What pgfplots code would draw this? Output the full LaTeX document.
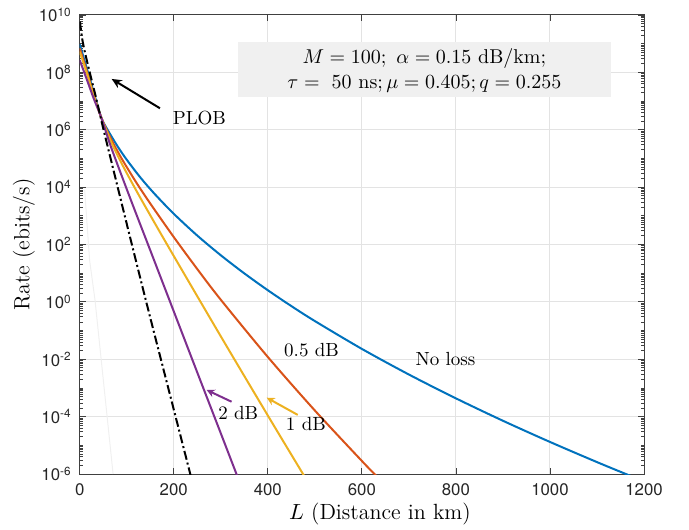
\documentclass[border=0pt]{standalone}
\usepackage{fontspec}
\setsansfont{TeX Gyre Heros}
\usepackage{pgfplots}
\pgfplotsset{compat=1.18}
\usetikzlibrary{arrows.meta}
\definecolor{mblue}{rgb}{0,0.447,0.741}
\definecolor{morange}{rgb}{0.85,0.325,0.098}
\definecolor{myellow}{rgb}{0.929,0.694,0.125}
\definecolor{mpurple}{rgb}{0.494,0.184,0.556}
\definecolor{boxgray}{rgb}{0.941,0.941,0.941}
\def\minorlist{}%
\foreach \e in {-6,...,9}{\foreach \m in {2,...,9}{\xdef\minorlist{\minorlist\m e\e,}}}%
\foreach \e in {-5,-3,-1,1,3,5,7,9}{\xdef\minorlist{\minorlist 1e\e,}}%
\xdef\minorlist{\minorlist 1e10}%
\begin{document}%
\begin{tikzpicture}
\path[use as bounding box] (-39.85pt,-27.5pt) rectangle (304.65pt,237pt);
\begin{axis}[
  at={(0,0)}, anchor=south west,
  scale only axis, width=282.15pt, height=229.5pt,
  xmin=0, xmax=1200, ymode=log, ymin=1e-6, ymax=1e10,
  axis line style={black!75, line width=0.5pt},
  every tick/.style={black!75, line width=0.4pt},
  major tick length=3pt, minor tick length=1.6pt,
  xtick={0,200,400,600,800,1000,1200},
  xticklabels={0,200,400,600,800,1000,1200},
  ytick={1e-6,1e-4,1e-2,1,1e2,1e4,1e6,1e8,1e10},
  yticklabels={10\textsuperscript{-6},10\textsuperscript{-4},10\textsuperscript{-2},10\textsuperscript{0},10\textsuperscript{2},10\textsuperscript{4},10\textsuperscript{6},10\textsuperscript{8},10\textsuperscript{10}},
  minor ytick/.expanded={\minorlist},
  ticklabel style={font=\sffamily\fontsize{8.4}{9}\selectfont, text=black!85},
  xticklabel style={yshift=-1.5pt},
  yticklabel style={xshift=-0.5pt},
  xmajorgrids=true, ymajorgrids=true, yminorgrids=false,
  grid style={black!11, line width=0.5pt},
  xlabel={$L$ (Distance in km)},
  ylabel={Rate (ebits/s)},
  xlabel style={font=\fontsize{11}{13}\selectfont, at={(axis description cs:0.532,-0.087)}, anchor=center},
  ylabel style={font=\fontsize{11}{13}\selectfont, at={(axis description cs:-0.0987,0.5)}, anchor=center},
  clip=true,
]
% faint line
\addplot[black!6, line width=0.5pt] coordinates {(10.6,7.94e3) (21,28.8) (32.5,1.175) (71,1e-6)};
% No loss
\addplot[mblue, line width=1pt, smooth] coordinates {
(0,9.55e8) (15,1.41e8) (30,2.0e7) (46,2.63e6) (60,9.55e5) (80,2.73e5) (100,9.04e4)
(130,2.07e4) (160,5.64e3) (200,1178) (250,205) (300,42.2) (350,9.86) (400,2.547)
(450,0.7145) (500,0.2148) (600,0.02296) (700,2.938e-3) (800,4.335e-4) (900,7.178e-5)
(1000,1.312e-5) (1100,2.60e-6) (1166,9.31e-7) (1180,7.52e-7)};
% 0.5 dB
\addplot[morange, line width=1pt, smooth] coordinates {
(0,6.92e8) (15,1.12e8) (30,1.66e7) (46,2.63e6) (67,4.613e5) (90,9.419e4) (120,1.479e4)
(150,2.692e3) (200,182) (250,13.96) (300,1.189) (400,1.202e-2) (500,1.641e-4)
(600,2.851e-6) (625,1.072e-6) (640,5.9e-7)};
% 1 dB
\addplot[myellow, line width=1pt, smooth] coordinates {
(0,5.25e8) (15,9.55e7) (30,1.51e7) (46,2.63e6) (67,3.715e5) (90,6.31e4) (120,7.762e3)
(150,1047) (200,39.8) (300,0.0631) (400,1.096e-4) (476,9.33e-7) (490,4e-7)};
% 2 dB
\addplot[mpurple, line width=1pt, smooth] coordinates {
(0,2.69e8) (15,5.75e7) (30,1.2e7) (46,2.63e6) (67,2.40e5) (110,3.16e3) (150,63.1)
(200,0.468) (250,3.47e-3) (300,2.63e-5) (335,8.51e-7) (345,3.16e-7)};
% PLOB
\addplot[black, line width=1pt, smooth, dash pattern=on 4.5pt off 1.5pt on 1pt off 1.5pt] coordinates {
(0.5,5.89e9) (5,1.585e9) (10,6.03e8) (21,1.05e8) (35,1.26e7) (50,1.12e6) (81.5,8.91e3)
(117,39.8) (150,0.282) (200,1.78e-4) (235,1.02e-6) (238,6.5e-7)};
% parameter box
\fill[boxgray] (axis cs:337.4,1.12e9) rectangle (axis cs:1129.2,1.41e7);
\node[font=\fontsize{10}{12}\selectfont] at (axis cs:733,2.95e8) {$M = 100;\ \alpha = 0.15\ \mathrm{dB/km};$};
\node[font=\fontsize{10}{12}\selectfont] at (axis cs:733,3.98e7) {$\tau =\ 50\ \mathrm{ns}; \mu = 0.405; q = 0.255$};
% annotations
\draw[black, line width=1pt, -{Stealth[length=5pt,width=4.5pt]}] (axis cs:170.7,5.6e6) -- (axis cs:68,5.9e7);
\node[font=\fontsize{9.5}{11}\selectfont, anchor=west] at (axis cs:183,2.57e6) {PLOB};
\draw[mpurple, line width=1pt, -{Stealth[length=4pt,width=4pt]}] (axis cs:323,3.3e-4) -- (axis cs:270,8.5e-4);
\node[font=\fontsize{9.5}{11}\selectfont] at (axis cs:337,1.32e-4) {2 dB};
\draw[myellow, line width=1pt, -{Stealth[length=4pt,width=4pt]}] (axis cs:463.6,1.15e-4) -- (axis cs:397.7,4.57e-4);
\node[font=\fontsize{9.5}{11}\selectfont] at (axis cs:481,5.5e-5) {1 dB};
\node[font=\fontsize{9.5}{11}\selectfont] at (axis cs:493,2.09e-2) {0.5 dB};
\node[font=\fontsize{9.5}{11}\selectfont] at (axis cs:778,1.0e-2) {No loss};
\end{axis}
\end{tikzpicture}
\end{document}
